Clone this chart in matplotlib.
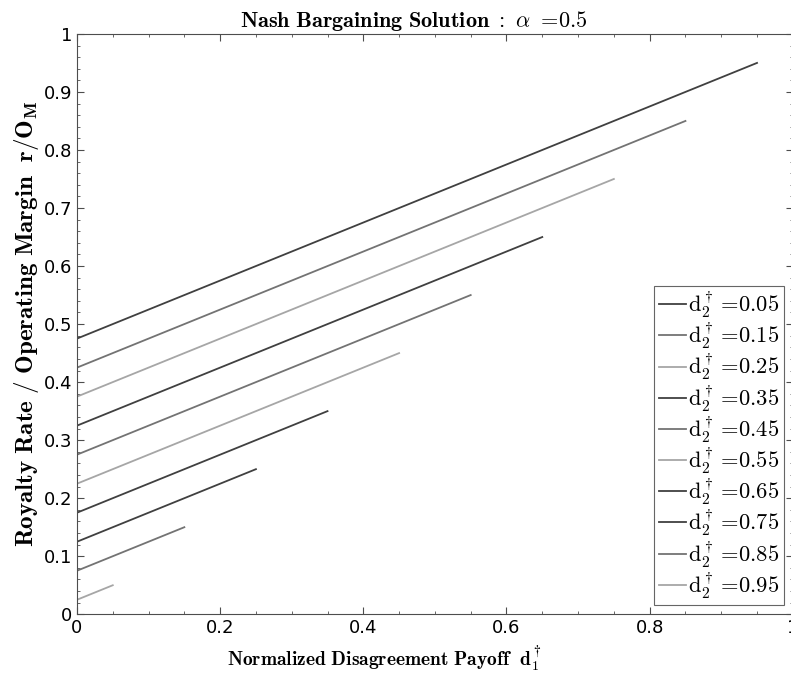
import matplotlib
matplotlib.use("Agg")
import matplotlib.pyplot as plt
from matplotlib.ticker import MultipleLocator

plt.rcParams['mathtext.fontset'] = 'cm'

# d2 values and line end points
d2_vals = [0.05, 0.15, 0.25, 0.35, 0.45, 0.55, 0.65, 0.75, 0.85, 0.95]
x_start = [0, 0, 0, 0, 0, 0, 0, 0, 0, 0]
x_end = [0.95, 0.85, 0.75, 0.65, 0.55, 0.45, 0.35, 0.25, 0.15, 0.05]
y_start = [0.475, 0.425, 0.375, 0.325, 0.275, 0.225, 0.175, 0.125, 0.075, 0.025]
y_end = [0.95, 0.85, 0.75, 0.65, 0.55, 0.45, 0.35, 0.25, 0.15, 0.05]
grays = ['0.25', '0.45', '0.65', '0.25', '0.45', '0.65', '0.25', '0.25', '0.45', '0.65']

fig = plt.figure(figsize=(7.91, 6.78), dpi=100)
ax = fig.add_axes([0.0973, 0.094, 0.905, 0.856])

for d2, xs, xe, ys, ye, c in zip(d2_vals, x_start, x_end, y_start, y_end, grays):
    ax.plot([xs, xe], [ys, ye], color=c, lw=1.3,
            label=r'$\mathrm{d_2^\dagger =\!%.2f}$' % d2)

ax.set_xlim(0, 1)
ax.set_ylim(0, 1)
ax.xaxis.set_minor_locator(MultipleLocator(0.05))
ax.yaxis.set_minor_locator(MultipleLocator(0.02))
ax.set_xticks([0, 0.2, 0.4, 0.6, 0.8, 1.0], ['0', '0.2', '0.4', '0.6', '0.8', '1'])
ax.set_yticks([i / 10 for i in range(11)],
              ['0'] + ['%.1f' % (i / 10) for i in range(1, 10)] + ['1'])
ax.tick_params(which='both', direction='in', top=True, right=True,
               labelsize=13, color='0.3')
ax.tick_params(which='major', length=5)
ax.tick_params(which='minor', length=2.5)
for s in ax.spines.values():
    s.set_color('0.3')
    s.set_linewidth(0.8)

ax.set_title(r'$\mathbf{Nash\ Bargaining\ Solution\ :}\ \alpha\ \mathbf{=\!0.5}$',
             fontsize=16, pad=5, x=0.47)
ax.set_xlabel(r'$\mathbf{Normalized\ Disagreement\ Payoff}\ \ \mathbf{d_1^\dagger}$',
              fontsize=14)
ax.xaxis.set_label_coords(0.429, -0.052, transform=ax.transAxes)
ax.xaxis.label.set_va('top')
ax.set_ylabel(r'$\mathbf{Royalty\ Rate\ /\ Operating\ Margin}\ \ \mathbf{r/O_M}$',
              fontsize=18, labelpad=2)

leg = ax.legend(loc='lower right', fontsize=16.2, handlelength=1.2,
                handletextpad=0.1, borderpad=0.2, labelspacing=0.07,
                fancybox=False, edgecolor='0.4', framealpha=1,
                borderaxespad=0.4)
leg.get_frame().set_linewidth(0.8)

fig.savefig('out.png', dpi=100)
